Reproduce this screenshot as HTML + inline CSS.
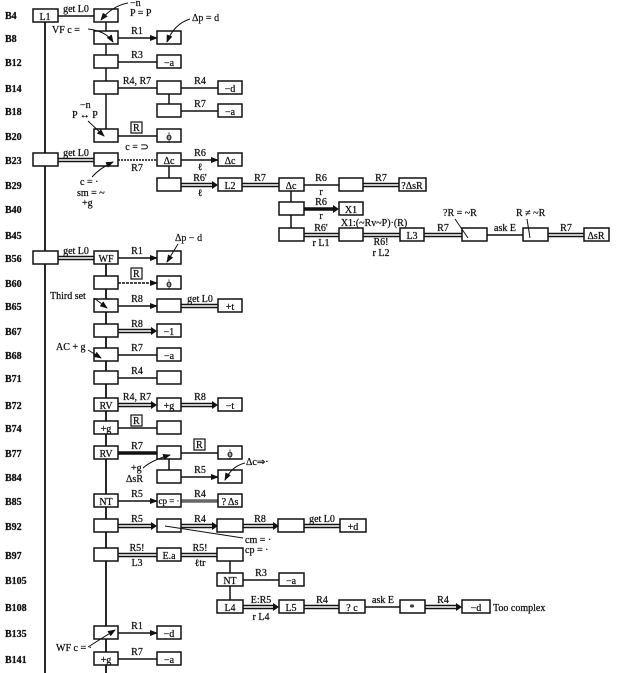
<!DOCTYPE html>
<html><head><meta charset="utf-8"><style>
body{margin:0;background:#fff}
svg{display:block}
text{font-family:"Liberation Serif",serif;font-size:10px;fill:#111;stroke:#111;stroke-width:0.25}
.b{fill:#fff;stroke:#111;stroke-width:1.5}
.s{stroke:#111;stroke-width:1.5;fill:none}
.dk{stroke:#111;stroke-width:4.5}
.dw{stroke:#fff;stroke-width:1.6}
.tk{stroke:#111;stroke-width:3.5}
.lb{font-weight:bold;font-size:10px}
.c{text-anchor:middle}
</style></head><body>
<svg width="626" height="673" viewBox="0 0 626 673" xmlns="http://www.w3.org/2000/svg">
<defs><marker id="a" markerWidth="8" markerHeight="6" refX="7" refY="3" orient="auto" markerUnits="userSpaceOnUse"><path d="M0,0L8,3L0,6z" fill="#111"/></marker></defs>

<g class="lb">
<text x="5" y="19">B4</text><text x="5" y="42">B8</text><text x="5" y="66">B12</text><text x="5" y="92">B14</text>
<text x="5" y="115">B18</text><text x="5" y="140">B20</text><text x="5" y="164">B23</text><text x="5" y="189">B29</text>
<text x="5" y="213">B40</text><text x="5" y="239">B45</text><text x="5" y="262">B56</text><text x="5" y="287">B60</text>
<text x="5" y="310">B65</text><text x="5" y="335">B67</text><text x="5" y="359">B68</text><text x="5" y="382">B71</text>
<text x="5" y="409">B72</text><text x="5" y="432">B74</text><text x="5" y="457">B77</text><text x="5" y="481">B84</text>
<text x="5" y="505">B85</text><text x="5" y="530">B92</text><text x="5" y="559">B97</text><text x="5" y="584">B105</text>
<text x="5" y="611">B108</text><text x="5" y="637">B135</text><text x="5" y="663">B141</text>
</g>

<line class="s" x1="45" y1="22" x2="45" y2="673" style="stroke-width:1.8"/>
<line class="s" x1="106" y1="16" x2="106" y2="136"/>
<line class="s" x1="169" y1="88" x2="169" y2="111"/>
<line class="s" x1="169" y1="160" x2="169" y2="185"/>
<line class="s" x1="291" y1="185" x2="291" y2="235"/>
<line class="s" x1="106" y1="258" x2="106" y2="673" style="stroke-width:1.8"/>
<line class="s" x1="169" y1="453" x2="169" y2="477"/>
<line class="s" x1="230" y1="555" x2="230" y2="607"/>

<g class="s">
<line x1="58" y1="16" x2="94" y2="16"/>
<line x1="118" y1="38" x2="157" y2="38" marker-end="url(#a)"/>
<line x1="118" y1="62" x2="157" y2="62"/>
<line x1="118" y1="88" x2="157" y2="88"/>
<line x1="181" y1="88" x2="218" y2="88"/>
<line x1="181" y1="111" x2="218" y2="111"/>
<line x1="118" y1="136" x2="157" y2="136"/>
<line x1="118" y1="160" x2="157" y2="160" stroke-dasharray="2,1"/>
<line x1="181" y1="160" x2="218" y2="160" marker-end="url(#a)"/>
<line x1="304" y1="185" x2="339" y2="185"/>
<line x1="487" y1="235" x2="523" y2="235"/>
<line x1="118" y1="258" x2="157" y2="258" marker-end="url(#a)"/>
<line x1="118" y1="283" x2="157" y2="283" marker-end="url(#a)" stroke-dasharray="3,1"/>
<line x1="118" y1="306" x2="157" y2="306" marker-end="url(#a)"/>
<line x1="118" y1="355" x2="157" y2="355"/>
<line x1="118" y1="378" x2="157" y2="378"/>
<line x1="118" y1="428" x2="157" y2="428"/>
<line x1="181" y1="453" x2="218" y2="453"/>
<line x1="181" y1="477" x2="218" y2="477" marker-end="url(#a)"/>
<line x1="118" y1="501" x2="157" y2="501" marker-end="url(#a)"/>
<line x1="243" y1="580" x2="279" y2="580"/>
<line x1="365" y1="607" x2="400" y2="607"/>
<line x1="118" y1="633" x2="157" y2="633" marker-end="url(#a)"/>
<line x1="118" y1="659" x2="157" y2="659"/>
</g>

<g>
<line class="dk" x1="58" y1="160" x2="94" y2="160"/><line class="dw" x1="58" y1="160" x2="94" y2="160"/>
<line class="dk" x1="181" y1="185" x2="214" y2="185"/><line class="dw" x1="181" y1="185" x2="214" y2="185"/>
<line class="dk" x1="242" y1="185" x2="279" y2="185"/><line class="dw" x1="242" y1="185" x2="279" y2="185"/>
<line class="dk" x1="363" y1="185" x2="399" y2="185"/><line class="dw" x1="363" y1="185" x2="399" y2="185"/>
<line class="tk" x1="304" y1="209" x2="335" y2="209"/>
<line class="dk" x1="304" y1="235" x2="339" y2="235"/><line class="dw" x1="304" y1="235" x2="339" y2="235"/>
<line class="dk" x1="363" y1="235" x2="400" y2="235"/><line class="dw" x1="363" y1="235" x2="400" y2="235"/>
<line class="dk" x1="424" y1="235" x2="462" y2="235"/><line class="dw" x1="424" y1="235" x2="462" y2="235"/>
<line class="dk" x1="548" y1="235" x2="584" y2="235"/><line class="dw" x1="548" y1="235" x2="584" y2="235"/>
<line class="dk" x1="58" y1="258" x2="94" y2="258"/><line class="dw" x1="58" y1="258" x2="94" y2="258"/>
<line class="dk" x1="181" y1="306" x2="218" y2="306"/><line class="dw" x1="181" y1="306" x2="218" y2="306"/>
<line class="dk" x1="118" y1="331" x2="153" y2="331"/><line class="dw" x1="118" y1="331" x2="153" y2="331"/>
<line class="dk" x1="118" y1="405" x2="153" y2="405"/><line class="dw" x1="118" y1="405" x2="153" y2="405"/>
<line class="dk" x1="181" y1="405" x2="214" y2="405"/><line class="dw" x1="181" y1="405" x2="214" y2="405"/>
<line class="tk" x1="118" y1="453" x2="157" y2="453"/>
<line class="tk" x1="181" y1="501" x2="218" y2="501" style="stroke:#666"/>
<line class="dk" x1="118" y1="526" x2="153" y2="526"/><line class="dw" x1="118" y1="526" x2="153" y2="526"/>
<line class="dk" x1="181" y1="526" x2="214" y2="526"/><line class="dw" x1="181" y1="526" x2="214" y2="526"/>
<line class="dk" x1="243" y1="526" x2="275" y2="526"/><line class="dw" x1="243" y1="526" x2="275" y2="526"/>
<line class="dk" x1="304" y1="526" x2="340" y2="526"/><line class="dw" x1="304" y1="526" x2="340" y2="526"/>
<line class="dk" x1="118" y1="555" x2="157" y2="555"/><line class="dw" x1="118" y1="555" x2="157" y2="555"/>
<line class="dk" x1="181" y1="555" x2="218" y2="555"/><line class="dw" x1="181" y1="555" x2="218" y2="555"/>
<line class="dk" x1="243" y1="607" x2="275" y2="607"/><line class="dw" x1="243" y1="607" x2="275" y2="607"/>
<line class="dk" x1="304" y1="607" x2="339" y2="607"/><line class="dw" x1="304" y1="607" x2="339" y2="607"/>
<line class="dk" x1="425" y1="607" x2="458" y2="607"/><line class="dw" x1="425" y1="607" x2="458" y2="607"/>
</g>
<g fill="#111">
<path d="M212,181L218,185L212,189z"/><path d="M333,205L339,209L333,213z"/>
<path d="M151,327L157,331L151,335z"/><path d="M151,401L157,405L151,409z"/><path d="M212,401L218,405L212,409z"/>
<path d="M151,522L157,526L151,530z"/><path d="M212,522L218,526L212,530z"/><path d="M273,522L279,526L273,530z"/>
<path d="M273,603L279,607L273,611z"/><path d="M456,603L462,607L456,611z"/>
</g>

<g class="b">
<rect x="33" y="9" width="25" height="13"/><rect x="94" y="9" width="24" height="13"/>
<rect x="94" y="31" width="24" height="13"/><rect x="157" y="31" width="24" height="13"/>
<rect x="94" y="55" width="24" height="13"/><rect x="157" y="55" width="24" height="13"/>
<rect x="94" y="81" width="24" height="13"/><rect x="157" y="81" width="24" height="13"/><rect x="218" y="81" width="24" height="13"/>
<rect x="157" y="104" width="24" height="13"/><rect x="218" y="104" width="24" height="13"/>
<rect x="94" y="129" width="24" height="13"/><rect x="157" y="129" width="24" height="13"/>
<rect x="33" y="153" width="25" height="13"/><rect x="94" y="153" width="24" height="13"/><rect x="157" y="153" width="24" height="13"/><rect x="218" y="153" width="24" height="13"/>
<rect x="157" y="178" width="24" height="13"/><rect x="218" y="178" width="24" height="13"/><rect x="279" y="178" width="25" height="13"/><rect x="339" y="178" width="24" height="13"/><rect x="399" y="178" width="27" height="13"/>
<rect x="279" y="202" width="25" height="13"/><rect x="339" y="202" width="24" height="13"/>
<rect x="279" y="228" width="25" height="13"/><rect x="339" y="228" width="24" height="13"/><rect x="400" y="228" width="24" height="13"/><rect x="462" y="228" width="25" height="13"/><rect x="523" y="228" width="25" height="13"/><rect x="584" y="228" width="25" height="13"/>
<rect x="33" y="251" width="25" height="13"/><rect x="94" y="251" width="24" height="13"/><rect x="157" y="251" width="24" height="13"/>
<rect x="94" y="276" width="24" height="13"/><rect x="157" y="276" width="24" height="13"/>
<rect x="94" y="299" width="24" height="13"/><rect x="157" y="299" width="24" height="13"/><rect x="218" y="299" width="24" height="13"/>
<rect x="94" y="324" width="24" height="13"/><rect x="157" y="324" width="24" height="13"/>
<rect x="94" y="348" width="24" height="13"/><rect x="157" y="348" width="24" height="13"/>
<rect x="94" y="371" width="24" height="13"/><rect x="157" y="371" width="24" height="13"/>
<rect x="94" y="398" width="24" height="13"/><rect x="157" y="398" width="24" height="13"/><rect x="218" y="398" width="24" height="13"/>
<rect x="94" y="421" width="24" height="13"/><rect x="157" y="421" width="24" height="13"/>
<rect x="94" y="446" width="24" height="13"/><rect x="157" y="446" width="24" height="13"/><rect x="218" y="446" width="24" height="13"/>
<rect x="157" y="470" width="24" height="13"/><rect x="218" y="470" width="24" height="13"/>
<rect x="94" y="494" width="24" height="13"/><rect x="157" y="494" width="24" height="13"/><rect x="218" y="494" width="24" height="13"/>
<rect x="94" y="519" width="24" height="13"/><rect x="157" y="519" width="24" height="13"/><rect x="217" y="519" width="26" height="13"/><rect x="278" y="519" width="26" height="13"/><rect x="340" y="519" width="26" height="13"/>
<rect x="94" y="548" width="24" height="13"/><rect x="157" y="548" width="24" height="13"/><rect x="217" y="548" width="26" height="13"/>
<rect x="217" y="573" width="26" height="13"/><rect x="279" y="573" width="25" height="13"/>
<rect x="217" y="600" width="26" height="13"/><rect x="279" y="600" width="25" height="13"/><rect x="339" y="600" width="26" height="13"/><rect x="400" y="600" width="25" height="13"/><rect x="462" y="600" width="28" height="13"/>
<rect x="94" y="626" width="24" height="13"/><rect x="157" y="626" width="24" height="13"/>
<rect x="94" y="652" width="24" height="13"/><rect x="157" y="652" width="24" height="13"/>
</g>

<g class="c">
<text x="45" y="20">L1</text>
<text x="169" y="66">−a</text><text x="230" y="92">−d</text><text x="230" y="115">−a</text>
<text x="169" y="140">ϕ</text>
<text x="169" y="164">Δc</text><text x="230" y="164">Δc</text>
<text x="230" y="189">L2</text><text x="291" y="189">Δc</text><text x="412" y="189">?ΔsR</text>
<text x="351" y="213">X1</text>
<text x="412" y="239">L3</text><text x="596" y="239">ΔsR</text>
<text x="106" y="262">WF</text>
<text x="169" y="287">ϕ</text><text x="230" y="310">+t</text>
<text x="169" y="335">−1</text><text x="169" y="359">−a</text>
<text x="106" y="409">RV</text><text x="169" y="409">+g</text><text x="230" y="409">−t</text>
<text x="106" y="432">+g</text>
<text x="106" y="457">RV</text><text x="230" y="457">ϕ</text>
<text x="106" y="505">NT</text><text x="169" y="504" style="font-size:9px">cp = ·</text><text x="230" y="505">? Δs</text>
<text x="353" y="530">+d</text>
<text x="169" y="559">E.a</text>
<text x="230" y="584">NT</text><text x="291" y="584">−a</text>
<text x="230" y="611">L4</text><text x="291" y="611">L5</text><text x="352" y="611">? c</text><text x="412" y="611">*</text><text x="476" y="611">−d</text>
<text x="169" y="637">−d</text><text x="106" y="663">+g</text><text x="169" y="663">−a</text>
</g>

<g class="c">
<text x="76" y="12">get L0</text>
<text x="137" y="34">R1</text><text x="137" y="58">R3</text>
<text x="137" y="84">R4, R7</text><text x="200" y="84">R4</text><text x="200" y="107">R7</text>
<text x="137" y="150">c = ⊃</text>
<text x="76" y="156">get L0</text><text x="137" y="171">R7</text>
<text x="200" y="156">R6</text><text x="200" y="170">ℓ</text>
<text x="200" y="181">R6'</text><text x="200" y="196">ℓ</text>
<text x="260" y="181">R7</text>
<text x="321" y="181">R6</text><text x="321" y="195">r</text><text x="381" y="181">R7</text>
<text x="321" y="205">R6</text><text x="321" y="219">r</text>
<text x="321" y="231">R6'</text><text x="321" y="246">r L1</text>
<text x="381" y="245">R6!</text><text x="381" y="256">r L2</text>
<text x="374" y="226">X1:(~Rv~P)·(R)</text>
<text x="443" y="231">R7</text><text x="505" y="231">ask E</text><text x="566" y="231">R7</text>
<text x="76" y="254">get L0</text><text x="137" y="254">R1</text>
<text x="137" y="302">R8</text><text x="200" y="302">get L0</text>
<text x="137" y="327">R8</text><text x="137" y="351">R7</text><text x="137" y="374">R4</text>
<text x="137" y="400">R4, R7</text><text x="200" y="400">R8</text>
<text x="137" y="449">R7</text><text x="200" y="473">R5</text>
<text x="137" y="497">R5</text><text x="200" y="497">R4</text>
<text x="137" y="522">R5</text><text x="200" y="522">R4</text><text x="260" y="522">R8</text><text x="322" y="522">get L0</text>
<text x="137" y="551">R5!</text><text x="137" y="566">L3</text>
<text x="200" y="551">R5!</text><text x="200" y="566">ℓtr</text>
<text x="261" y="576">R3</text>
<text x="261" y="603">E:R5</text><text x="261" y="620">r L4</text>
<text x="322" y="603">R4</text><text x="383" y="603">ask E</text><text x="443" y="603">R4</text>
<text x="137" y="629">R1</text><text x="137" y="655">R7</text>
</g>
<text x="493" y="611">Too complex</text>

<g>
<rect x="131" y="122" width="11" height="11" class="b" style="stroke-width:1.2"/><text x="133" y="131">R</text>
<rect x="131" y="268" width="11" height="11" class="b" style="stroke-width:1.2"/><text x="133" y="277">R</text>
<rect x="131" y="415" width="11" height="11" class="b" style="stroke-width:1.2"/><text x="133" y="424">R</text>
<rect x="194" y="439" width="11" height="11" class="b" style="stroke-width:1.2"/><text x="196" y="448">R</text>
</g>

<text x="130" y="6">−n</text><text x="130" y="16">P = P</text>
<path class="s" d="M128,3Q112,6 101,20" marker-end="url(#a)" style="stroke-width:1"/>
<text x="52" y="33">VF c =</text>
<path class="s" d="M88,29Q106,31 113,42" marker-end="url(#a)" style="stroke-width:1"/>
<text x="192" y="21">Δp = d</text>
<path class="s" d="M190,19Q174,24 167,42" marker-end="url(#a)" style="stroke-width:1"/>
<text x="80" y="108">−n</text><text x="72" y="118">P ↔ P</text>
<path class="s" d="M88,121L104,136" marker-end="url(#a)" style="stroke-width:1"/>
<text x="80" y="185">c = ·</text><text x="77" y="196">sm = ~</text><text x="82" y="206">+g</text>
<path class="s" d="M92,177Q100,168 113,162" marker-end="url(#a)" style="stroke-width:1"/>
<text x="443" y="216">?R = ~R</text>
<path class="s" d="M455,219L468,238" style="stroke-width:1"/>
<text x="516" y="216">R ≠ ~R</text>
<path class="s" d="M527,219L530,238" style="stroke-width:1"/>
<text x="175" y="241">Δp − d</text>
<path class="s" d="M178,244L167,262" marker-end="url(#a)" style="stroke-width:1"/>
<text x="50" y="299">Third set</text>
<path class="s" d="M94,298L107,308" marker-end="url(#a)" style="stroke-width:1"/>
<text x="56" y="350">AC + g</text>
<path class="s" d="M88,350L101,358" marker-end="url(#a)" style="stroke-width:1"/>
<text x="131" y="471">+g</text><text x="126" y="482">ΔsR</text>
<path class="s" d="M143,468Q152,460 170,455" marker-end="url(#a)" style="stroke-width:1"/>
<text x="246" y="465">Δc⇒·</text>
<path class="s" d="M245,463Q232,466 225,480" marker-end="url(#a)" style="stroke-width:1"/>
<text x="245" y="543">cm = ·</text><text x="245" y="553">cp = ·</text>
<path class="s" d="M243,538L165,526" style="stroke-width:1"/>
<text x="56" y="651">WF c = ·</text>
<path class="s" d="M88,647L115,630" marker-end="url(#a)" style="stroke-width:1"/>
</svg>
</body></html>
